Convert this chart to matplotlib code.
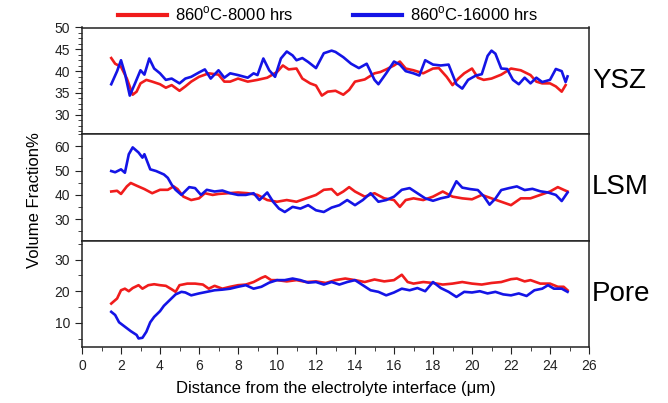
import matplotlib
matplotlib.use('Agg')
import matplotlib.pyplot as plt
from matplotlib.ticker import MultipleLocator

plt.rcParams['font.family'] = ['Liberation Sans', 'DejaVu Sans']
plt.rcParams['mathtext.fontset'] = 'custom'
plt.rcParams['mathtext.rm'] = 'Liberation Sans'

# ---- data ----
ysz_x_8k = [1.5, 1.7, 2.0, 2.3, 2.6, 2.8, 3.0, 3.3, 3.6, 4.0, 4.3, 4.6, 5.0, 5.3, 5.6, 6.0, 6.5, 7.0, 7.3, 7.6,
            8.0, 8.5, 9.0, 9.5, 10.0, 10.3, 10.6, 11.0, 11.3, 11.7, 12.0, 12.3, 12.6, 13.0, 13.4, 13.7, 14.0, 14.5, 15.0, 15.3,
            15.6, 16.0, 16.3, 16.6, 17.0, 17.5, 18.0, 18.3, 18.7, 19.0, 19.3, 19.6, 20.0, 20.3, 20.6, 21.0, 21.5, 22.0, 22.5, 23.0,
            23.3, 23.6, 24.0, 24.3, 24.6, 24.8]
ysz_8k = [43.0, 41.7, 41.0, 38.3, 34.6, 35.3, 37.2, 38.0, 37.6, 37.0, 36.2, 36.8, 35.5, 36.5, 37.6, 38.7, 39.5, 39.2, 37.6, 37.6,
          38.3, 37.6, 38.0, 38.5, 39.8, 41.3, 40.4, 40.6, 38.3, 37.2, 36.7, 34.4, 35.3, 35.5, 34.6, 35.7, 37.6, 38.1, 39.5, 39.8,
          40.4, 41.3, 42.2, 40.6, 40.2, 39.5, 40.6, 40.7, 38.7, 36.8, 38.3, 39.5, 40.6, 38.5, 38.0, 38.3, 39.2, 40.6, 40.2, 39.1,
          37.6, 37.2, 37.2, 36.5, 35.3, 36.8]

ysz_x_16k = [1.5, 1.8, 2.0, 2.2, 2.45, 2.7, 3.0, 3.2, 3.45, 3.7, 4.0, 4.3, 4.6, 5.0, 5.3, 5.6, 6.0, 6.3, 6.6, 7.0,
             7.3, 7.6, 8.0, 8.5, 8.8, 9.0, 9.3, 9.6, 9.9, 10.2, 10.5, 10.8, 11.0, 11.3, 11.6, 12.0, 12.4, 12.8, 13.0, 13.4,
             13.8, 14.2, 14.6, 15.0, 15.2, 15.6, 16.0, 16.3, 16.6, 17.0, 17.3, 17.6, 18.0, 18.4, 18.8, 19.2, 19.5, 19.8, 20.2, 20.5,
             20.8, 21.0, 21.2, 21.5, 21.8, 22.1, 22.4, 22.7, 23.0, 23.3, 23.6, 24.0, 24.3, 24.6, 24.8, 24.9]
ysz_16k = [37.0, 40.0, 42.5, 39.5, 34.4, 37.0, 40.2, 39.2, 42.9, 40.6, 39.5, 38.0, 38.3, 37.2, 38.3, 38.7, 39.7, 40.4, 38.3, 40.2,
           38.5, 39.5, 39.1, 38.5, 39.5, 39.1, 42.9, 40.2, 38.7, 42.9, 44.5, 43.6, 42.5, 43.0, 42.1, 40.7, 44.1, 44.7, 44.4, 43.2,
           41.7, 40.7, 41.7, 38.0, 37.0, 39.5, 42.2, 41.5, 40.0, 39.5, 39.0, 42.5, 41.5, 41.3, 41.5, 37.0, 36.0, 38.0, 39.0, 39.3,
           43.5, 44.7, 44.0, 40.6, 40.5, 38.0, 37.0, 38.5, 37.2, 38.5, 37.5, 38.0, 40.5, 40.0, 37.5, 38.8]

lsm_x_8k = [1.5, 1.8, 2.0, 2.3, 2.5, 2.8, 3.2, 3.6, 4.0, 4.4, 4.7, 4.9, 5.2, 5.6, 6.0, 6.3, 6.7, 7.0, 7.5, 8.0,
            8.5, 9.0, 9.5, 10.0, 10.5, 11.0, 11.5, 12.0, 12.4, 12.8, 13.1, 13.4, 13.7, 14.0, 14.5, 15.0, 15.5, 16.0, 16.3, 16.6,
            17.0, 17.5, 18.0, 18.5, 19.0, 19.5, 20.0, 20.5, 21.0, 21.5, 22.0, 22.5, 23.0, 23.5, 24.0, 24.4, 24.7, 24.9]
lsm_8k = [41.4, 41.7, 40.4, 43.5, 44.9, 43.8, 42.4, 40.7, 42.1, 42.1, 43.5, 42.4, 39.3, 37.9, 38.6, 40.7, 40.0, 40.4, 40.7, 41.0,
          40.7, 40.0, 37.9, 37.2, 37.9, 37.2, 38.6, 40.0, 42.1, 42.4, 40.0, 41.4, 43.2, 41.4, 39.3, 40.7, 38.6, 37.9, 35.1, 37.9,
          38.6, 37.9, 39.3, 41.4, 39.3, 38.6, 38.2, 40.0, 38.6, 37.2, 35.8, 38.6, 38.6, 40.0, 41.4, 43.2, 42.1, 41.4]

lsm_x_16k = [1.5, 1.7, 2.0, 2.2, 2.4, 2.6, 2.9, 3.1, 3.2, 3.5, 3.8, 4.0, 4.2, 4.4, 4.6, 4.8, 5.1, 5.5, 5.8, 6.1,
             6.4, 6.8, 7.2, 7.6, 8.0, 8.4, 8.8, 9.1, 9.5, 9.8, 10.1, 10.4, 10.8, 11.2, 11.6, 12.0, 12.4, 12.8, 13.2, 13.6,
             14.0, 14.4, 14.8, 15.2, 15.6, 16.0, 16.4, 16.8, 17.2, 17.6, 18.0, 18.4, 18.8, 19.2, 19.5, 19.9, 20.3, 20.6, 20.9, 21.2,
             21.5, 21.9, 22.3, 22.7, 23.1, 23.5, 23.9, 24.3, 24.6, 24.9]
lsm_16k = [49.8, 49.3, 50.5, 49.1, 56.7, 59.5, 57.4, 55.3, 56.7, 50.5, 49.8, 49.1, 48.4, 47.0, 44.2, 42.1, 40.0, 43.2, 42.8, 40.0,
           42.1, 41.4, 41.8, 40.7, 40.0, 40.0, 40.7, 37.9, 41.0, 37.2, 34.4, 33.0, 35.1, 34.4, 35.8, 33.7, 33.0, 34.8, 35.8, 37.9,
           35.8, 37.9, 40.7, 37.2, 37.9, 39.3, 42.1, 42.8, 40.7, 38.6, 37.6, 38.6, 39.3, 45.6, 43.0, 42.4, 42.0, 39.5, 36.0, 38.5,
           42.0, 42.8, 43.5, 42.0, 42.5, 41.5, 41.0, 40.0, 37.5, 41.0]

pore_x_8k = [1.5, 1.8, 2.0, 2.2, 2.4, 2.6, 2.9, 3.1, 3.4, 3.7, 4.0, 4.3, 4.6, 4.8, 5.0, 5.4, 5.8, 6.2, 6.5, 6.8,
             7.2, 7.6, 8.0, 8.4, 8.8, 9.2, 9.4, 9.7, 10.0, 10.5, 11.0, 11.5, 12.0, 12.5, 13.0, 13.5, 14.0, 14.5, 15.0, 15.5,
             16.0, 16.4, 16.7, 17.0, 17.5, 18.0, 18.5, 19.0, 19.5, 20.0, 20.5, 21.0, 21.5, 22.0, 22.3, 22.7, 23.0, 23.5, 24.0, 24.4,
             24.7, 24.9]
pore_8k = [16.1, 17.7, 20.3, 20.8, 20.0, 21.0, 21.9, 20.8, 21.9, 22.2, 21.9, 21.7, 20.6, 19.8, 21.9, 22.4, 22.4, 22.1, 20.8, 21.7,
           20.8, 21.4, 21.9, 22.1, 22.9, 24.2, 24.7, 23.5, 23.5, 23.1, 23.5, 22.9, 23.1, 22.6, 23.5, 24.0, 23.5, 22.9, 23.7, 23.1,
           23.5, 25.2, 22.9, 22.4, 22.9, 22.6, 22.1, 22.4, 22.9, 22.4, 22.1, 22.6, 22.9, 23.8, 24.0, 23.1, 23.5, 22.4, 22.4, 21.4,
           21.4, 20.3]

pore_x_16k = [1.5, 1.7, 1.9, 2.2, 2.5, 2.8, 2.9, 3.1, 3.3, 3.5, 3.7, 4.0, 4.2, 4.5, 4.8, 5.1, 5.3, 5.6, 6.0, 6.4,
              6.8, 7.2, 7.6, 8.0, 8.4, 8.8, 9.2, 9.6, 10.0, 10.4, 10.8, 11.2, 11.6, 12.0, 12.4, 12.8, 13.2, 13.6, 14.0, 14.4,
              14.8, 15.2, 15.6, 16.0, 16.4, 16.8, 17.2, 17.6, 18.0, 18.4, 18.8, 19.2, 19.6, 20.0, 20.4, 20.8, 21.2, 21.6, 22.0, 22.4,
              22.8, 23.2, 23.6, 23.9, 24.2, 24.6, 24.9]
pore_16k = [13.5, 12.5, 10.2, 8.8, 7.4, 6.2, 5.1, 5.3, 7.2, 10.2, 11.9, 13.7, 15.4, 17.2, 19.0, 19.8, 19.6, 18.7, 19.3, 19.8,
            20.3, 20.5, 20.8, 21.4, 21.9, 20.8, 21.4, 22.7, 23.5, 23.5, 24.0, 23.5, 22.7, 22.9, 22.1, 22.9, 22.1, 22.9, 23.5, 21.9,
            20.3, 19.8, 18.7, 19.6, 20.8, 20.3, 21.0, 20.0, 22.9, 21.0, 19.8, 18.2, 19.8, 19.6, 20.0, 19.3, 19.8, 19.0, 18.7, 19.3,
            18.5, 20.3, 20.8, 21.9, 20.8, 20.8, 19.8]

panel_names = ['YSZ', 'LSM', 'Pore']
series_labels = [r'860$^{\mathrm{o}}$C-8000 hrs', r'860$^{\mathrm{o}}$C-16000 hrs']

RED = '#f01c1c'
BLUE = '#1414e6'

fig, axes = plt.subplots(3, 1, sharex=True, figsize=(6.68, 4.03), dpi=100)
fig.subplots_adjust(left=82 / 668, right=589 / 668, top=1 - 27.5 / 403, bottom=1 - 347 / 403, hspace=0)

data = [(ysz_x_8k, ysz_8k, ysz_x_16k, ysz_16k),
        (lsm_x_8k, lsm_8k, lsm_x_16k, lsm_16k),
        (pore_x_8k, pore_8k, pore_x_16k, pore_16k)]
ylims = [(25.6, 50.0), (21.3, 65.0), (2.4, 36.0)]
majors = [5, 10, 10]
minors = [1.25, 5, 5]

for i, ax in enumerate(axes):
    x1, y1, x2, y2 = data[i]
    ax.plot(x1, y1, color=RED, lw=1.9, label=series_labels[0])
    ax.plot(x2, y2, color=BLUE, lw=1.9, label=series_labels[1])
    ax.set_ylim(*ylims[i])
    ax.yaxis.set_major_locator(MultipleLocator(majors[i]))
    ax.yaxis.set_minor_locator(MultipleLocator(minors[i]))
    ax.tick_params(axis='y', which='both', direction='out', right=False, labelsize=10, colors='#222222')
    ax.tick_params(axis='y', which='major', length=5)
    ax.tick_params(axis='y', which='minor', length=3)
    for s in ax.spines.values():
        s.set_linewidth(1.1)
        s.set_color('#222222')
    ax.text(1.006, 0.5, panel_names[i], transform=ax.transAxes, ha='left', va='center', fontsize=20)
    if i < 2:
        ax.tick_params(axis='x', which='both', bottom=False, labelbottom=False)

ax = axes[2]
ax.set_xlim(0, 26)
ax.xaxis.set_major_locator(MultipleLocator(2))
ax.xaxis.set_minor_locator(MultipleLocator(1))
ax.tick_params(axis='x', which='both', direction='out', top=False, labelsize=10, colors='#222222')
ax.tick_params(axis='x', which='major', length=5)
ax.tick_params(axis='x', which='minor', length=3)
ax.set_xlabel('Distance from the electrolyte interface (\u03bcm)', fontsize=12, labelpad=6)

fig.text(35 / 668, 1 - 200 / 403, 'Volume Fraction%', rotation=90, ha='center', va='center', fontsize=12)

handles, labels = axes[0].get_legend_handles_labels()
leg = fig.legend(handles, labels, loc='center', bbox_to_anchor=(328 / 668, 1 - 14 / 403), ncol=2,
                 frameon=False, fontsize=12, handlelength=2.9, handletextpad=0.5, columnspacing=3.6)
for line in leg.get_lines():
    line.set_linewidth(3)

fig.savefig('out.png', dpi=100)
